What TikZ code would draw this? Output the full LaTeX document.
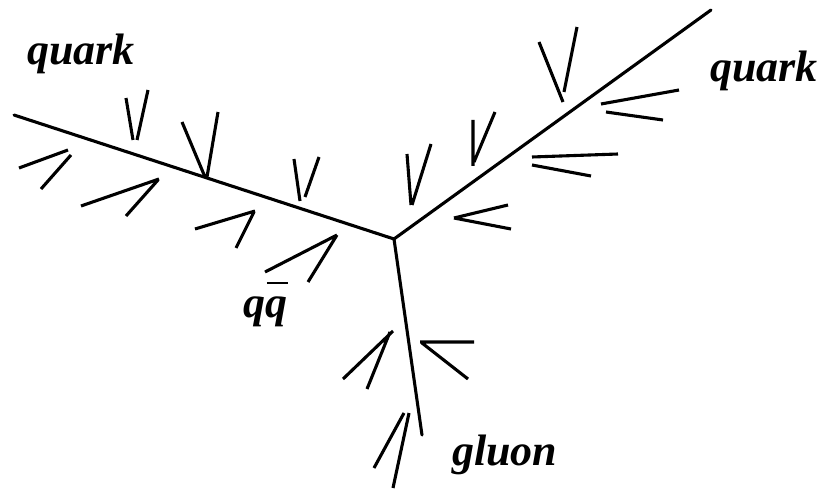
\documentclass[tikz,border=0pt]{standalone}
\usepackage{fontspec}
\setmainfont{Liberation Serif}
\usepackage{tikz}
\usetikzlibrary{positioning}

\begin{document}
\begin{tikzpicture}[
  x=1pt,
  y=-1pt,
  parton/.style={line width=3.1pt,line cap=round},
  flow/.style={line width=3.1pt},
  partlabel/.style={font=\bfseries\itshape\fontsize{44}{48}\selectfont,inner sep=0pt,anchor=base west}
]
  \useasboundingbox (0,0) rectangle (822,489);

  % Jets from the vertex
  \coordinate (vtx) at (394,239);
  \coordinate (qleft) at (14,115);
  \coordinate (qright) at (711,10);
  \coordinate (glu) at (422,435);
  \draw[parton] (qleft) -- (vtx) -- (qright);
  \draw[parton] (vtx) -- (glu);

  % Colour flow marks
  \foreach \a/\b/\c/\d/\e/\f/\g/\h in {
      126/98/133/140/148/90/137/140,
      182/122/205/177/218/112/207/177,
      294/159/300/201/319/157/305/197,
      407/154/411/205/431/144/412/205,
      19/168/68/150/41/189/71/155,
      81/206/159/179/126/216/158/180,
      195/229/255/211/236/248/254/212,
      265/272/337/235/308/282/337/235,
      539/42/563/102/577/27/564/92,
      473/120/473/166/495/112/474/162,
      601/104/679/90/606/112/663/120,
      532/157/618/154/532/165/591/176,
      454/218/508/205/454/218/511/229,
      343/379/393/331/367/389/390/332,
      420/342/474/342/422/343/468/379,
      374/468/404/413/393/488/409/413}
    {\draw[flow] (\a,\b) -- (\c,\d) (\e,\f) -- (\g,\h);}

  % Labels
  \node[partlabel] (lquark) at (27,65) {quark};
  \node[partlabel] (rquark) at (710,82) {quark};
  \node[partlabel] (pair) at (243,317) {q\makebox[0pt][l]{\hspace{0.04em}\rule[0.76em]{0.48em}{2pt}}q};
  \node[partlabel] (gluon) at (452,465) {gluon};
\end{tikzpicture}
\end{document}
